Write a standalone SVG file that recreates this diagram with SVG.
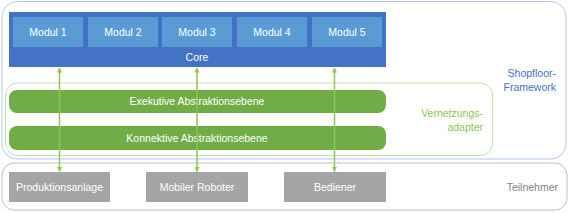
<svg xmlns="http://www.w3.org/2000/svg" width="570" height="213" viewBox="0 0 570 213">
<defs>
<marker id="ah" viewBox="0 0 10 10" refX="9" refY="5" markerWidth="5" markerHeight="5" orient="auto-start-reverse" markerUnits="userSpaceOnUse">
<path d="M0,0 L10,5 L0,10 Z" fill="#8CC653"/>
</marker>
<style>
text{font-family:"Liberation Sans",Arial,sans-serif;font-size:10.5px}
.w{fill:#ffffff;text-anchor:middle}
.mod{fill:#5B9BD5}
.gr{fill:#70AD47}
.gy{fill:#A5A5A5}
.conn{stroke:#8CC653;stroke-width:1.5;fill:none}
</style>
</defs>
<rect width="570" height="213" fill="#ffffff"/>
<g id="framework">
<rect x="2" y="1.5" width="564" height="157.5" rx="15" fill="none" stroke="#B4C7E7" stroke-width="1"/>
<text x="556" y="76.5" fill="#4472C4" text-anchor="end">Shopfloor-</text>
<text x="556" y="91" fill="#4472C4" text-anchor="end">Framework</text>
</g>
<g id="teilnehmer">
<rect x="2" y="163" width="565" height="47" rx="12" fill="none" stroke="#BFBFBF" stroke-width="1"/>
<text x="558" y="190.5" fill="#7F7F7F" text-anchor="end">Teilnehmer</text>
</g>
<g id="adapter">
<rect x="5.5" y="83" width="487" height="72.5" rx="12" fill="none" stroke="#C5E0B4" stroke-width="1"/>
<text x="483" y="116.5" fill="#8CC653" text-anchor="end">Vernetzungs-</text>
<text x="483" y="131" fill="#8CC653" text-anchor="end">adapter</text>
</g>
<g id="core">
<rect x="9" y="12" width="377" height="55" fill="#4472C4"/>
<text class="w" x="197" y="60.5">Core</text>
</g>
<g id="modul1"><rect class="mod" x="13" y="17" width="70" height="30"/><text class="w" x="48" y="35.5">Modul 1</text></g>
<g id="modul2"><rect class="mod" x="88" y="17" width="70" height="30"/><text class="w" x="123" y="35.5">Modul 2</text></g>
<g id="modul3"><rect class="mod" x="162" y="17" width="70" height="30"/><text class="w" x="197" y="35.5">Modul 3</text></g>
<g id="modul4"><rect class="mod" x="237" y="17" width="70" height="30"/><text class="w" x="272" y="35.5">Modul 4</text></g>
<g id="modul5"><rect class="mod" x="312" y="17" width="70" height="30"/><text class="w" x="347" y="35.5">Modul 5</text></g>
<g id="exekutive"><rect class="gr" x="9" y="90" width="377" height="23" rx="8"/><text class="w" x="197" y="105">Exekutive Abstraktionsebene</text></g>
<g id="konnektive"><rect class="gr" x="9" y="126" width="377" height="24" rx="8"/><text class="w" x="197" y="141.5">Konnektive Abstraktionsebene</text></g>
<g id="produktionsanlage"><rect class="gy" x="9" y="172" width="101" height="30"/><text class="w" x="59.5" y="190.5">Produktionsanlage</text></g>
<g id="roboter"><rect class="gy" x="146" y="172" width="102" height="30"/><text class="w" x="197" y="190.5">Mobiler Roboter</text></g>
<g id="bediener"><rect class="gy" x="284" y="172" width="102" height="30"/><text class="w" x="335" y="190.5">Bediener</text></g>
<g id="connectors">
<line class="conn" x1="59.5" y1="68" x2="59.5" y2="171.5" marker-start="url(#ah)" marker-end="url(#ah)"/>
<line class="conn" x1="197" y1="68" x2="197" y2="171.5" marker-start="url(#ah)" marker-end="url(#ah)"/>
<line class="conn" x1="334.5" y1="68" x2="334.5" y2="171.5" marker-start="url(#ah)" marker-end="url(#ah)"/>
</g>
</svg>
